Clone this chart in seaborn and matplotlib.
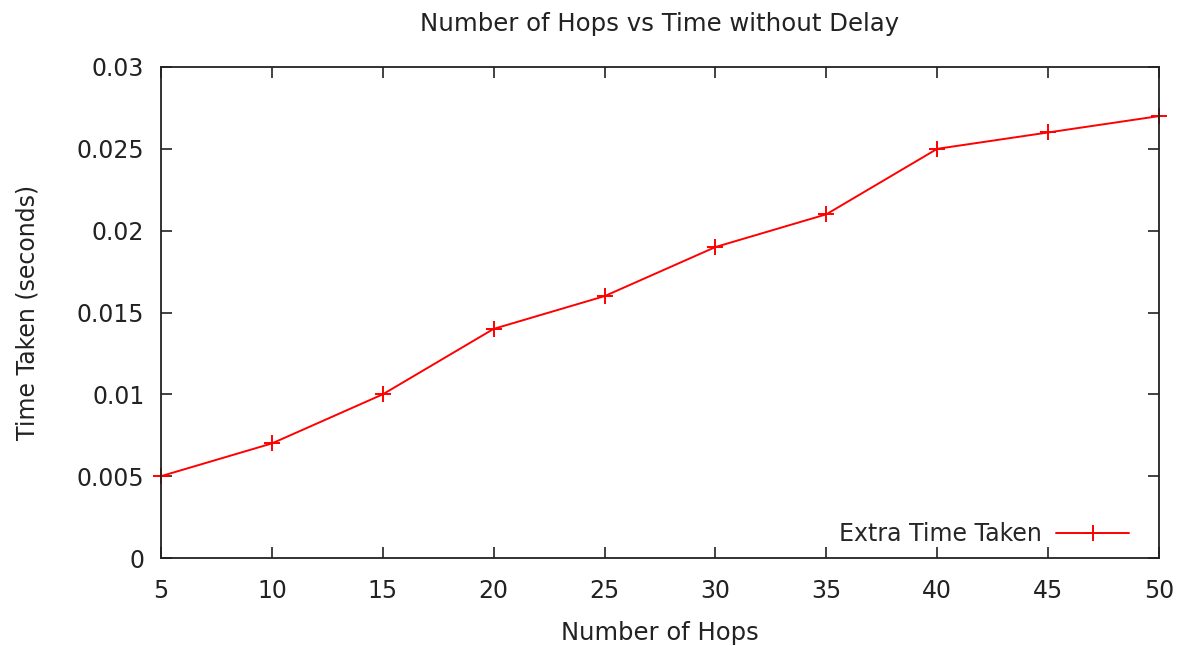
import matplotlib
matplotlib.use("Agg")
import matplotlib.pyplot as plt
import seaborn as sns
import pandas as pd

hops = [5, 10, 15, 20, 25, 30, 35, 40, 45, 50]
extra_time = [0.005, 0.007, 0.010, 0.014, 0.016, 0.019, 0.021, 0.025, 0.026, 0.027]
x_ticks = [5, 10, 15, 20, 25, 30, 35, 40, 45, 50]
y_ticks = [0, 0.005, 0.01, 0.015, 0.02, 0.025, 0.03]
y_tick_labels = ["0", "0.005", "0.01", "0.015", "0.02", "0.025", "0.03"]

sns.set_style("ticks")
plt.rcParams["font.family"] = ["DejaVu Sans"]

df = pd.DataFrame({"hops": hops, "time": extra_time, "series": "Extra Time Taken"})

fig = plt.figure(figsize=(11.85, 6.46), dpi=100)
ax = fig.add_axes([161 / 1185, 1 - 558 / 646, (1159 - 161) / 1185, (558 - 67) / 646])

red = "#ff0000"
sns.lineplot(data=df, x="hops", y="time", hue="series", palette=[red],
             marker="+", markersize=11, markeredgewidth=1.4, markeredgecolor=red,
             markerfacecolor=red, linewidth=1.4, ax=ax, clip_on=False)

ax.set_xlim(5, 50)
ax.set_ylim(0, 0.03)
ax.set_xticks(x_ticks)
ax.set_xticklabels([str(v) for v in x_ticks])
ax.set_yticks(y_ticks)
ax.set_yticklabels(y_tick_labels)

ax.tick_params(direction="in", length=8, width=1.2, top=True, right=True,
               labelsize=17, colors="#222222")
ax.tick_params(axis="x", pad=15)
ax.tick_params(axis="y", pad=12)
for side in ax.spines.values():
    side.set_linewidth(1.3)
    side.set_color("#222222")

ax.set_title("Number of Hops vs Time without Delay", fontsize=17.6, pad=26, color="#222222")
ax.set_xlabel("Number of Hops", fontsize=17.5, labelpad=13, color="#222222")
ax.set_ylabel("Time Taken (seconds)", fontsize=17, labelpad=27, color="#222222")

leg = ax.legend(loc="lower right", bbox_to_anchor=(1 - 11 / 998, -7 / 491),
                frameon=False, fontsize=17, handlelength=3.1,
                markerfirst=False, borderaxespad=0.4, handletextpad=0.6)

fig.savefig("out.png", dpi=100)
